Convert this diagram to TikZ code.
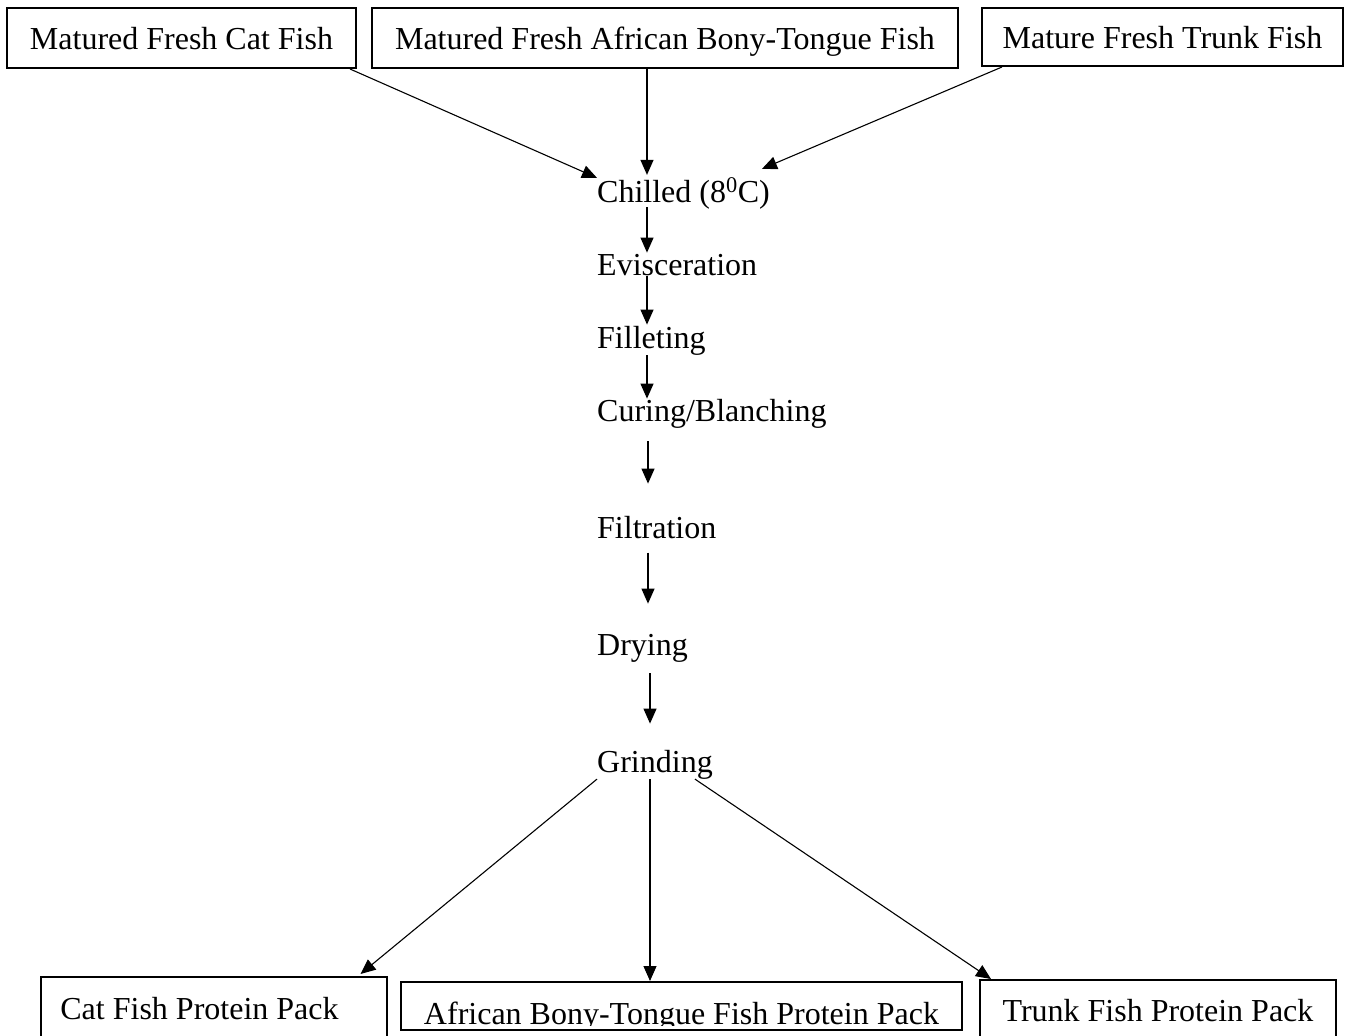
\documentclass[tikz,border=0pt]{standalone}
\usepackage{fontspec}
\setmainfont{Liberation Serif}
\usetikzlibrary{arrows.meta}
\newcommand{\flowfont}{\fontsize{32}{38}\selectfont}

\begin{document}
\begin{tikzpicture}[x=1pt, y=-1pt,
  fishbox/.style={draw, line width=2pt, inner sep=0pt, text depth=0pt, font=\flowfont},
  stage/.style={anchor=base west, inner sep=0pt, font=\flowfont},
  flow/.style={line width=1.1pt, -{Triangle[length=15pt,width=13pt]}}]
\useasboundingbox (0,0) rectangle (1345,1036);
\clip (0,0) rectangle (1345,1036);
\node[fishbox, minimum width=349pt, minimum height=60pt] (cat) at (181.5,38) {Matured Fresh Cat Fish};
\node[fishbox, minimum width=586pt, minimum height=60pt] (afr) at (665,38) {Matured Fresh African Bony-Tongue Fish};
\node[fishbox, minimum width=361pt, minimum height=58pt] (trunk) at (1162.5,37) {Mature Fresh Trunk Fish};
\node[stage] (chill) at (597,202) {Chilled (8\textsuperscript{0}C)};
\node[stage] (evis) at (597,275) {Evisceration};
\node[stage] (fill) at (597,348) {Filleting};
\node[stage] (cure) at (597,421) {Curing/Blanching};
\node[stage] (filt) at (597,538) {Filtration};
\node[stage] (dry) at (597,655) {Drying};
\node[stage] (grind) at (597,772) {Grinding};
\node[fishbox, minimum width=346pt, minimum height=63pt] (catpack) at (213.5,1008.5) {Cat Fish Protein Pack\hspace*{28pt}};
\node[fishbox, minimum width=561pt, minimum height=48pt] (afpack) at (681.5,1006) {};
\node[fishbox, minimum width=356pt, minimum height=60pt] (trunkpack) at (1158,1010) {Trunk Fish Protein Pack};
\begin{scope}
\clip (afpack.north west) rectangle ([yshift=6pt]afpack.south east);
\node[anchor=base, inner sep=0pt, font=\flowfont] (aftext) at ([yshift=7pt]afpack.south) {African Bony-Tongue Fish Protein Pack};
\end{scope}
\coordinate (chx) at ([xshift=50pt]chill.north west);
\coordinate (grx) at ([xshift=53pt]grind.south west);
\draw[flow] ([xshift=-7pt]cat.south east) -- (chill.north west);
\draw[flow, shorten >=3pt] (chx |- afr.south) -- (chx);
\draw[flow] ([xshift=21pt]trunk.south west) -- ([xshift=-8pt,yshift=9pt]chill.north east);
\draw[flow, shorten <=-2pt, shorten >=1pt] ([xshift=50pt]chill.south west) -- ([xshift=50pt]evis.north west);
\draw[flow, shorten >=1pt] ([xshift=50pt]evis.south west) -- ([xshift=50pt]fill.north west);
\draw[flow] ([xshift=50pt]fill.south west) -- ([xshift=50pt]cure.north west);
\draw[flow, shorten <=13pt, shorten >=32pt] ([xshift=51pt]cure.south west) -- ([xshift=51pt]filt.north west);
\draw[flow, shorten <=14pt, shorten >=30pt] ([xshift=51pt]filt.south west) -- ([xshift=51pt]dry.north west);
\draw[flow, shorten <=11pt, shorten >=26pt] ([xshift=53pt]dry.south west) -- ([xshift=53pt]grind.north west);
\draw[flow] (grind.south west) -- ([xshift=-27pt,yshift=2pt]catpack.north east);
\draw[flow] (grx) -- (grx |- afpack.north);
\draw[flow] ([xshift=-18pt]grind.south east) -- ([xshift=12pt]trunkpack.north west);
\end{tikzpicture}
\end{document}
